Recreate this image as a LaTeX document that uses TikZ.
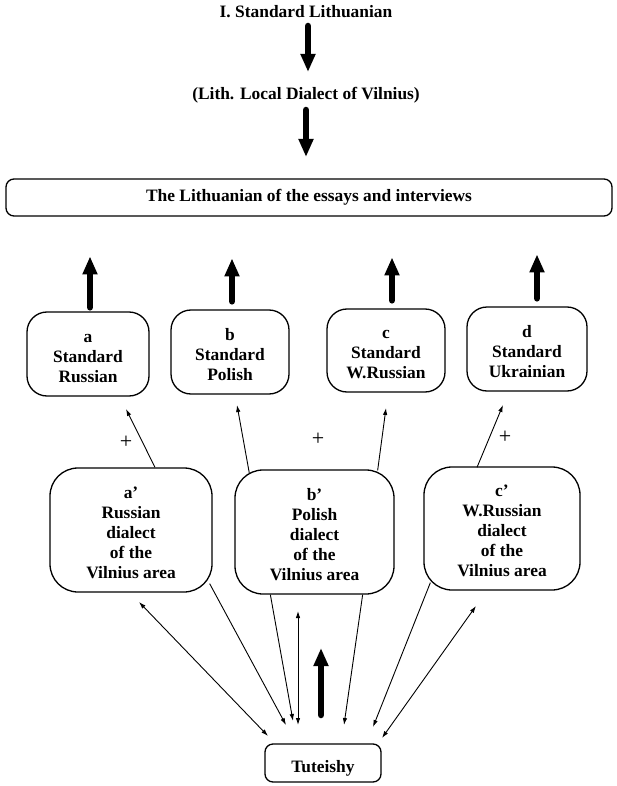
\documentclass[tikz,border=0pt]{standalone}
\usepackage{fontspec}
\setmainfont{Liberation Serif}
\usetikzlibrary{arrows.meta,calc}
\newcommand\bfs{\fontsize{17.4}{20}\selectfont\bfseries}
\newcommand\tp{\rule{0pt}{20pt}}
\newcommand\bt{\rule[-4pt]{0pt}{4pt}}
\begin{document}
\begin{tikzpicture}[x=1pt,y=-1pt,
  box/.style={draw, line width=1.3pt, align=center, font=\bfs, inner sep=0pt},
  sbox/.style={box, rounded corners=20pt},
  dbox/.style={box, rounded corners=28pt},
  txt/.style={font=\bfs, inner sep=0pt},
  big/.style={line width=6.5pt, line cap=round, -{Triangle[width=14pt,length=18pt]}},
  thin/.style={line width=0.9pt, -{Latex[length=7pt,width=4.5pt]}},
  dbl/.style={line width=0.9pt, {Latex[length=7pt,width=4.5pt]}-{Latex[length=7pt,width=4.5pt]}},
  plus/.style={font=\fontsize{22}{22}\selectfont, inner sep=0pt}
]
\useasboundingbox (0,0) rectangle (616,786);

% top texts
\node[txt, anchor=base] (t1) at (306,18) {I. Standard Lithuanian};
\node[txt, anchor=base] (t2) at (306,100) {(Lith. Local Dialect of Vilnius)};

% wide box
\node[box, rounded corners=8pt, minimum width=606pt, minimum height=37pt] (lit) at (309,197.5)
  {\rule[-4pt]{0pt}{17pt}The Lithuanian of the essays and interviews};

% standard boxes
\node[sbox, minimum width=122pt, minimum height=84pt] (a) at (88,354) {\tp a\\Standard\\Russian\bt};
\node[sbox, minimum width=118pt, minimum height=84pt] (b) at (230,352) {\tp b\\Standard\\Polish\bt};
\node[sbox, minimum width=118pt, minimum height=83pt] (c) at (386,350.5) {\tp c\\Standard\\W.Russian\bt};
\node[sbox, minimum width=120pt, minimum height=84pt] (d) at (527,349) {\tp d\\Standard\\Ukrainian\bt};

% dialect boxes
\node[dbox, minimum width=162pt, minimum height=124pt] (ap) at (131,530) {\tp a’\\Russian\\dialect\\of the\\Vilnius area\bt};
\node[dbox, minimum width=159pt, minimum height=124pt] (bp) at (314.5,532) {\tp b’\\Polish\\dialect\\of the\\Vilnius area\bt};
\node[dbox, minimum width=156pt, minimum height=123pt] (cp) at (502,528.5) {\tp c’\\W.Russian\\dialect\\of the\\Vilnius area\bt};

% Tuteishy
\node[box, rounded corners=8pt, minimum width=116pt, minimum height=38pt] (tut) at (323,763)
  {\rule[-2pt]{0pt}{24pt}Tuteishy};

% plus signs
\node[plus] (p1) at (126,442) {+};
\node[plus] (p2) at (318,439) {+};
\node[plus] (p3) at (505,437) {+};

% top thick arrows
\draw[big] ($(t1.base)+(2,8)$) -- ($(t1.base)+(2,54)$);
\draw[big] ($(t2.base)+(0,10)$) -- ($(t2.base)+(0,57)$);

% thick arrows from standard boxes up
\draw[big] ($(a.north)+(2,-4)$) -- ($(a.north)+(2,-55)$);
\draw[big] ($(b.north)+(2,-8)$) -- ($(b.north)+(2,-51)$);
\draw[big] ($(c.north)+(6,-8)$) -- ($(c.north)+(6,-51)$);
\draw[big] ($(d.north)+(10,-8)$) -- ($(d.north)+(10,-52)$);

% thin arrows from dialect boxes to standard boxes
\coordinate (ta) at (126,409);
\coordinate (tb) at (237,405);
\coordinate (tc) at (386,408);
\coordinate (td) at (503,405);
\draw[thin] ($(ap.north)+(24,0)$) -- (ta);
\draw[thin] ($(bp.north west)+(15,4)$) -- (tb);
\draw[thin] ($(bp.north east)+(-17,1)$) -- (tc);
\draw[thin] ($(cp.north)+(-25,1)$) -- (td);

% bottom connectors
\coordinate (l1) at (139,602);
\coordinate (l2) at (268,736);
\coordinate (m1) at (286,725);
\coordinate (m2) at (293,721);
\coordinate (v1) at (298,611);
\coordinate (v2) at (298,725);
\coordinate (k1) at (321,715);
\coordinate (k2) at (321,648);
\coordinate (n1) at (344,725);
\coordinate (n2) at (373,727);
\coordinate (r1) at (476,606);
\coordinate (r2) at (382,738);

\draw[dbl] (l1) -- (l2);
\draw[thin] ($(ap.south east)+(-3,-9)$) -- (m1);
\draw[thin] ($(bp.south west)+(36,0)$) -- (m2);
\draw[dbl] (v1) -- (v2);
\draw[big] (k1) -- (k2);
\draw[thin] ($(bp.south east)+(-32,0)$) -- (n1);
\draw[thin] ($(cp.south west)+(7,-8)$) -- (n2);
\draw[dbl] (r1) -- (r2);
\end{tikzpicture}
\end{document}
